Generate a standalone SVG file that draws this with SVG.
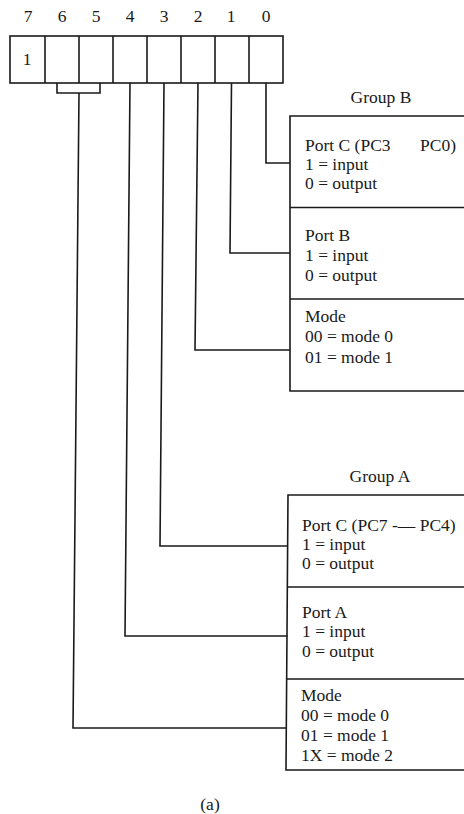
<svg xmlns="http://www.w3.org/2000/svg" width="464" height="814" viewBox="0 0 464 814">
<style>
text{font-family:"Liberation Serif","Times New Roman",serif;font-size:17.5px;fill:#1a1a1a}
.c{text-anchor:middle}
.ln{fill:none;stroke:#1a1a1a;stroke-width:1.6}
</style>
<rect width="464" height="814" fill="#fff"/>
<g id="register">
<text class="c" x="28" y="22">7</text>
<text class="c" x="62" y="22">6</text>
<text class="c" x="96" y="22">5</text>
<text class="c" x="130" y="22">4</text>
<text class="c" x="164" y="22">3</text>
<text class="c" x="198" y="22">2</text>
<text class="c" x="231" y="22">1</text>
<text class="c" x="266" y="22">0</text>
<rect class="ln" x="10" y="36" width="273" height="47"/>
<path class="ln" d="M45 36V83M79 36V83M113 36V83M147 36V83M181 36V83M215 36V83M249 36V83"/>
<text class="c" x="27" y="65">1</text>
</g>
<g id="groupB">
<text class="c" x="381" y="103">Group B</text>
<path class="ln" d="M464 116H290V391H464M290 207.5H464M290 299H464"/>
<text x="305" y="151">Port C (PC3</text>
<text x="420" y="151">PC0)</text>
<text x="305" y="170">1 = input</text>
<text x="305" y="189">0 = output</text>
<text x="305" y="241">Port B</text>
<text x="305" y="261">1 = input</text>
<text x="305" y="281">0 = output</text>
<text x="305" y="322">Mode</text>
<text x="305" y="342">00 = mode 0</text>
<text x="305" y="363">01 = mode 1</text>
</g>
<g id="groupA">
<text class="c" x="380" y="482">Group A</text>
<path class="ln" d="M464 495H288L286 770H464M287.5 587H464M287 679H464"/>
<text x="302" y="531">Port C (PC7 -— PC4)</text>
<text x="302" y="550">1 = input</text>
<text x="302" y="569">0 = output</text>
<text x="302" y="618">Port A</text>
<text x="302" y="637">1 = input</text>
<text x="302" y="657">0 = output</text>
<text x="301" y="701">Mode</text>
<text x="301" y="721">00 = mode 0</text>
<text x="301" y="741">01 = mode 1</text>
<text x="301" y="761">1X = mode 2</text>
</g>
<g id="connectors">
<path class="ln" d="M266 83V163H290"/>
<path class="ln" d="M231.5 83L230 253H290"/>
<path class="ln" d="M198 83L195 350H290"/>
<path class="ln" d="M164 83L160 546H288"/>
<path class="ln" d="M130 83L125 636H287.5"/>
<path class="ln" d="M57 83V93H100V83M79 93L73 728H286"/>
</g>
<text class="c" x="210" y="810">(a)</text>
</svg>
